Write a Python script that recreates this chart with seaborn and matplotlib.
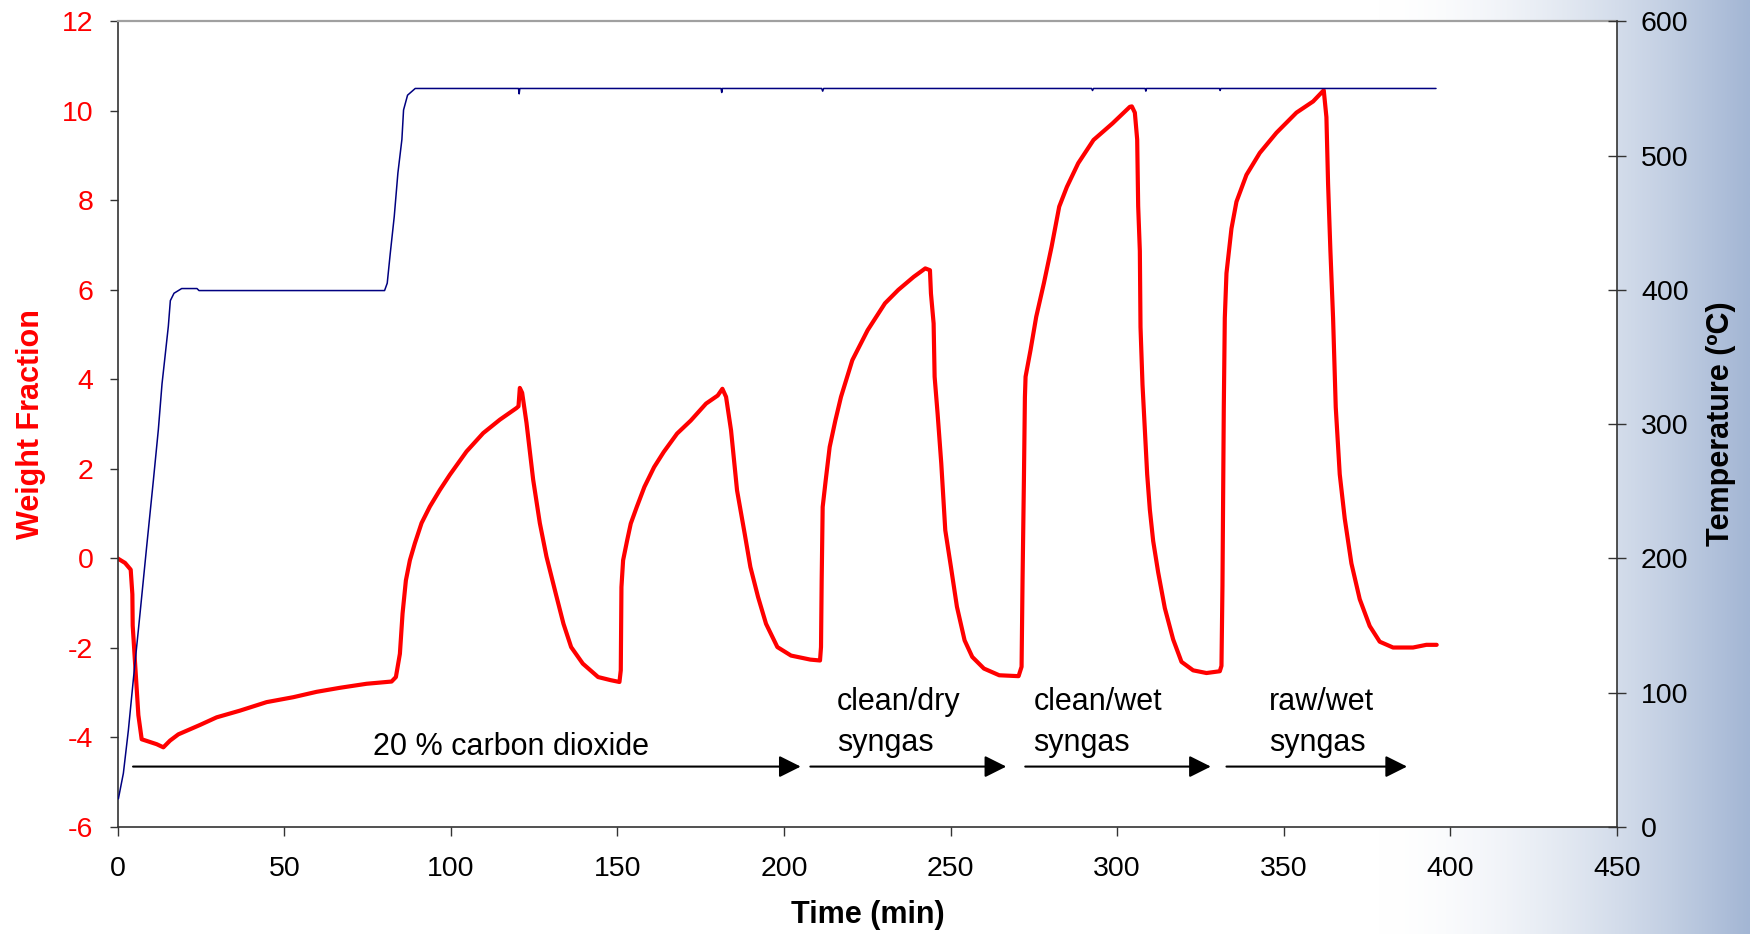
## Import Needed Libraries
import numpy as np
import pandas as pd
import matplotlib
matplotlib.use('Agg')
from matplotlib import pyplot as plt
import seaborn as sns

## Weight fraction trace (red)
time_wt = [0.0, 2.2, 3.9, 4.4, 4.5, 5.5, 6.2, 7.2, 9.2, 11.7, 13.7, 15.7, 18.2, 20.7,
           24.7, 29.7, 36.7, 44.7, 52.7, 59.7, 66.7, 74.7, 82.2, 83.5, 84.7, 85.5,
           86.5, 87.7, 89.2, 91.2, 93.7, 96.7, 99.7, 104.7, 109.7, 114.7, 119.7, 120.3,
           120.7, 121.4, 122.7, 124.7, 126.7, 128.7, 131.5, 133.8, 136.1, 139.6, 144.2,
           148.0, 150.6, 151.0, 151.2, 151.7, 152.9, 154.0, 155.8, 158.1, 161.0, 163.9,
           167.9, 172.0, 176.6, 180.1, 181.5, 182.6, 184.1, 185.9, 188.2, 189.9, 192.2,
           194.6, 198.0, 202.1, 207.9, 210.8, 211.1, 211.3, 211.6, 212.5, 213.7, 215.4,
           217.1, 220.5, 225.1, 230.3, 234.3, 238.9, 242.4, 243.8, 244.1, 244.9, 245.2,
           246.1, 247.2, 248.4, 250.1, 251.9, 254.2, 256.5, 260.0, 264.6, 270.4, 271.3,
           271.6, 272.0, 272.3, 272.5, 274.0, 275.7, 278.0, 280.3, 282.6, 284.9, 288.3,
           292.9, 298.6, 303.8, 304.4, 305.3, 306.0, 306.3, 306.8, 307.0, 307.6, 308.3,
           309.0, 309.8, 310.8, 312.3, 314.3, 316.8, 319.3, 322.8, 326.8, 330.8, 331.3,
           331.6, 331.8, 332.0, 332.3, 332.8, 334.3, 335.8, 338.8, 342.8, 347.8, 353.8,
           358.8, 362.0, 362.8, 363.3, 364.0, 364.8, 365.6, 366.8, 368.3, 370.3, 372.8,
           375.8, 378.8, 382.8, 388.8, 392.8, 395.9]
weight_frac = [0.00, -0.10, -0.25, -0.80, -1.50, -2.70, -3.50, -4.04, -4.09, -4.15, -4.22,
               -4.07, -3.93, -3.85, -3.72, -3.55, -3.40, -3.21, -3.10, -2.98, -2.89, -2.80,
               -2.75, -2.65, -2.13, -1.23, -0.49, -0.04, 0.34, 0.79, 1.16, 1.53, 1.87, 2.39,
               2.80, 3.10, 3.36, 3.40, 3.81, 3.70, 3.03, 1.76, 0.79, 0.04, -0.79, -1.46,
               -1.98, -2.35, -2.65, -2.72, -2.76, -2.50, -0.64, -0.04, 0.40, 0.78, 1.15,
               1.60, 2.04, 2.38, 2.79, 3.08, 3.46, 3.64, 3.79, 3.61, 2.86, 1.52, 0.55,
               -0.19, -0.86, -1.46, -1.98, -2.17, -2.26, -2.28, -1.98, -0.49, 1.15, 1.74,
               2.49, 3.08, 3.61, 4.43, 5.10, 5.70, 6.00, 6.29, 6.48, 6.44, 5.92, 5.25, 4.06,
               3.23, 2.12, 0.63, -0.19, -1.08, -1.83, -2.20, -2.46, -2.61, -2.63, -2.42,
               -0.45, 1.74, 3.60, 4.06, 4.66, 5.40, 6.15, 6.96, 7.86, 8.30, 8.83, 9.35,
               9.72, 10.09, 10.10, 9.96, 9.36, 7.87, 6.87, 5.17, 3.88, 2.88, 1.88, 1.09,
               0.39, -0.31, -1.11, -1.81, -2.31, -2.50, -2.56, -2.52, -2.40, -0.61, 1.39,
               3.38, 5.37, 6.37, 7.37, 7.97, 8.57, 9.06, 9.51, 9.96, 10.21, 10.46, 9.86,
               8.37, 6.87, 5.37, 3.38, 1.88, 0.89, -0.11, -0.91, -1.51, -1.86, -1.99,
               -1.99, -1.93, -1.93]

## Temperature trace (blue)
time_temp = [0.2, 1.7, 3.2, 4.7, 6.7, 8.7, 10.7, 12.2, 13.3, 14.1, 15.2, 15.8, 16.9, 19.2,
             23.8, 24.4, 80.1, 80.9, 81.8, 83.0, 84.1, 85.3, 85.8, 87.0, 89.3, 120.3,
             120.5, 120.7, 181.1, 181.3, 181.5, 211.3, 211.6, 211.9, 292.3, 292.6, 292.9,
             308.4, 308.6, 308.8, 330.7, 330.9, 331.1, 395.7]
temperature = [21, 40, 72, 110, 159, 209, 258, 296, 330, 348, 373, 392, 397.5, 401,
               401, 399.5, 399.5, 405, 427, 454.5, 487, 512, 534, 545, 550, 550,
               546, 550, 550, 547, 550, 550, 548, 550, 550, 548.5, 550,
               550, 548, 550, 550, 548.5, 550, 550]

## Gas phases: arrows and labels
phase_labels = ['20 % carbon dioxide', 'clean/dry\nsyngas', 'clean/wet\nsyngas', 'raw/wet\nsyngas']
arrow_start = [4.6, 207.9, 272.4, 332.8]
arrow_end = [205.0, 266.7, 328.1, 387.0]
label_x = [117.9, 215.8, 274.9, 345.6]
label_top = [-3.87, -2.87, -2.87, -2.87]
label_ha = ['center', 'left', 'left', 'left']
arrow_level = -4.65

x_ticks = list(range(0, 451, 50))
wt_ticks = list(range(-6, 13, 2))
temp_ticks = list(range(0, 601, 100))

wt = pd.DataFrame({'Time': time_wt, 'Weight': weight_frac})
temp = pd.DataFrame({'Time': time_temp, 'Temp': temperature})

## Style
sns.set_style('ticks')
plt.rcParams['font.family'] = ['Liberation Sans', 'DejaVu Sans']
plt.rcParams['axes.unicode_minus'] = False

fig = plt.figure(figsize=(17.5, 9.34), dpi=100)

## Slide-like gradient on the right of the figure
bg = fig.add_axes([0, 0, 1, 1], zorder=-5)
xs = np.linspace(0, 1, 700)
frac = np.clip((xs - 1380 / 1750) / (1 - 1380 / 1750), 0, 1) ** 1.7
end_col = np.array([163, 182, 212]) / 255
grad = (1 - frac)[:, None] * np.ones(3) + frac[:, None] * end_col
bg.imshow(np.repeat(grad[None, :, :], 2, axis=0), extent=[0, 1, 0, 1], aspect='auto')
bg.axis('off')

ax = fig.add_axes([0.06726, 0.11456, 0.8567, 0.8626])
ax.set_facecolor('white')
ax2 = ax.twinx()

sns.lineplot(data=wt, x='Time', y='Weight', ax=ax, color='#FF0000', linewidth=3.0,
             sort=False, estimator=None)
sns.lineplot(data=temp, x='Time', y='Temp', ax=ax2, color='#000080', linewidth=1.1,
             sort=False, estimator=None)

ax.set_xlim(0, 450)
ax.set_ylim(-6, 12)
ax2.set_ylim(0, 600)
ax.set_xticks(x_ticks)
ax.set_yticks(wt_ticks)
ax2.set_yticks(temp_ticks)

## Spines
for s in ['left', 'bottom']:
    ax.spines[s].set_color('#333333')
    ax.spines[s].set_linewidth(1.2)
ax.spines['right'].set_visible(False)
ax.spines['top'].set_color('#a0a0a0')
ax.spines['top'].set_linewidth(1.6)
for s in ['left', 'bottom', 'top']:
    ax2.spines[s].set_visible(False)
ax2.spines['right'].set_color('#333333')
ax2.spines['right'].set_linewidth(1.2)

ax.tick_params(axis='y', direction='out', length=5.8, width=1, color='#333333',
               labelsize=20.5, labelcolor='#FF0000', pad=11.8)
ax.tick_params(axis='x', direction='out', length=6.5, width=1, color='#333333',
               labelsize=20.5, labelcolor='black', pad=14.5)
ax2.tick_params(axis='y', direction='inout', length=13, width=1, color='#333333',
                labelsize=20.5, labelcolor='black', pad=10.8)

## Axis labels
ax.set_xlabel('Time (min)', fontsize=22, fontweight='bold', color='black')
ax.set_ylabel('Weight Fraction', fontsize=22, fontweight='bold', color='#FF0000')
ax2.set_ylabel('Temperature (ºC)', fontsize=22, fontweight='bold', color='black')
ax2.set_xlabel('')
ax.xaxis.label.set_va('center')
ax.yaxis.label.set_va('center')
ax2.yaxis.label.set_va('center')
ax.xaxis.set_label_coords(0.5, -0.109)
ax.yaxis.set_label_coords(-0.0575, 0.5)
ax2.yaxis.set_label_coords(1.0694, 0.5)

## Phase arrows and labels
for x0, x1 in zip(arrow_start, arrow_end):
    ax.annotate('', xy=(x1, arrow_level), xytext=(x0, arrow_level),
                arrowprops=dict(arrowstyle='-|>', color='black', lw=1.5,
                                mutation_scale=33, shrinkA=0, shrinkB=0))
for txt, x, y, ha in zip(phase_labels, label_x, label_top, label_ha):
    ax.text(x, y, txt, ha=ha, va='top', fontsize=22, color='black', linespacing=1.5)

fig.savefig('out.png', dpi=100)
plt.close('all')
